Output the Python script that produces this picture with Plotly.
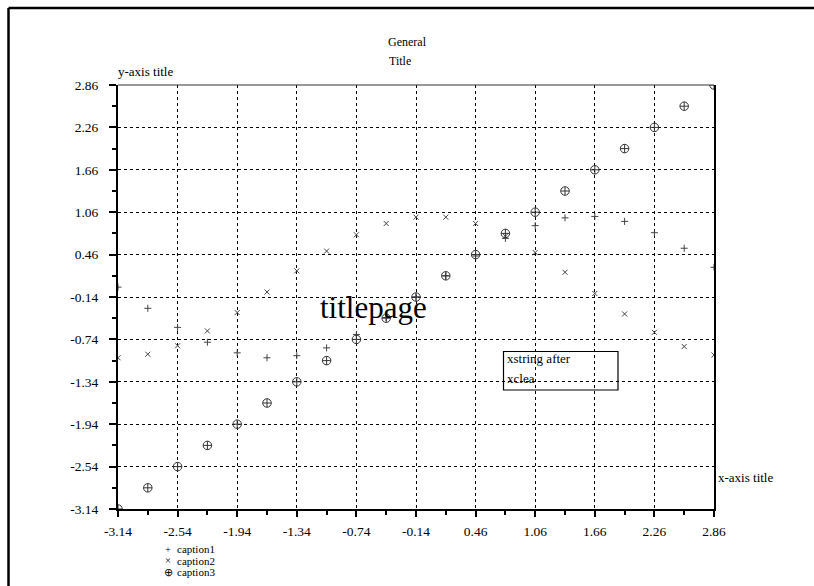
import plotly.graph_objects as go

# ---- data ----
x_vals = [-3.14, -2.84, -2.54, -2.24, -1.94, -1.64, -1.34, -1.04, -0.74, -0.44, -0.14,
          0.16, 0.46, 0.76, 1.06, 1.36, 1.66, 1.96, 2.26, 2.56, 2.86]
caption1 = [0.00, -0.30, -0.57, -0.78, -0.93, -1.00, -0.97, -0.86, -0.67, -0.43, -0.14,
            0.16, 0.44, 0.69, 0.87, 0.98, 1.00, 0.93, 0.77, 0.55, 0.28]
caption2 = [-1.00, -0.95, -0.83, -0.62, -0.36, -0.07, 0.23, 0.51, 0.74, 0.90, 0.99,
            0.99, 0.90, 0.72, 0.49, 0.21, -0.09, -0.38, -0.64, -0.84, -0.96]
caption3 = [-3.14, -2.84, -2.54, -2.24, -1.94, -1.64, -1.34, -1.04, -0.74, -0.44, -0.14,
            0.16, 0.46, 0.76, 1.06, 1.36, 1.66, 1.96, 2.26, 2.56, 2.86]
series_names = ["caption1", "caption2", "caption3"]
series_symbols = ["+", "\u00d7", "\u2295"]

tick_vals = [-3.14, -2.54, -1.94, -1.34, -0.74, -0.14, 0.46, 1.06, 1.66, 2.26, 2.86]
tick_text = ["-3.14", "-2.54", "-1.94", "-1.34", "-0.74", "-0.14", "0.46", "1.06", "1.66", "2.26", "2.86"]
minor_vals = [-2.84, -2.24, -1.64, -1.04, -0.44, 0.16, 0.76, 1.36, 1.96, 2.56]

FONT = "Liberation Serif"
W, H = 814, 586
L, R, T, B = 118, 100, 85, 77
PW, PH = W - L - R, H - T - B


def px(xp):
    return (xp - L) / PW


def py(yp):
    return (H - B - yp) / PH


fig = go.Figure()
fig.add_trace(go.Scatter(x=x_vals, y=caption1, mode="markers", name=series_names[0],
                         marker=dict(symbol="cross-thin", size=5, line=dict(color="#444", width=1))))
fig.add_trace(go.Scatter(x=x_vals, y=caption2, mode="markers", name=series_names[1],
                         marker=dict(symbol="x-thin", size=5, line=dict(color="#444", width=1))))
fig.add_trace(go.Scatter(x=x_vals, y=caption3, mode="markers", name=series_names[2],
                         marker=dict(symbol="circle-cross-open", size=8.5, color="#333",
                                     line=dict(color="#333", width=1))))

axis_common = dict(
    tickmode="array", tickvals=tick_vals, ticktext=tick_text,
    showgrid=True, gridcolor="black", gridwidth=1, griddash="3px,3px",
    zeroline=False, showline=True, linecolor="black", linewidth=2,
    ticks="outside", tickcolor="black", tickwidth=1.5,
    tickfont=dict(family=FONT, size=13.5, color="black"),
    minor=dict(tickmode="array", tickvals=minor_vals, ticks="outside", ticklen=4,
               tickcolor="black", tickwidth=1.5, showgrid=False),
    range=[-3.14, 2.86],
)

fig.update_xaxes(**axis_common, ticklen=6, mirror=False, ticklabelstandoff=3)
fig.update_yaxes(**axis_common, ticklen=7, mirror=True, ticklabelstandoff=8)

annos = []


def text(t, xp, yp, size, anchor="left"):
    annos.append(dict(text=t, x=px(xp), y=py(yp), xref="paper", yref="paper",
                      xanchor=anchor, yanchor="middle", showarrow=False,
                      font=dict(family=FONT, size=size, color="black")))


text("General", 386, 42, 12)
text("Title", 387, 61, 12)
text("y-axis title", 116, 71, 13)
text("x-axis title", 716, 477, 13)
text("titlepage", 318, 307, 31)
text("xstring after", 505, 358.5, 13)
text("xclea", 505, 378, 13)

rows = [549, 560.7, 572]
for sym, name, yp in zip(series_symbols, series_names, rows):
    text(sym, 168, yp, 10.5, anchor="center")
    text(name, 175, yp, 11)

shapes = [
    # legend-like box
    dict(type="rect", xref="paper", yref="paper", x0=px(503.5), x1=px(618), y0=py(390), y1=py(351.5),
         line=dict(color="black", width=1.2), fillcolor="rgba(0,0,0,0)"),
    # top border of plot box (thinner)
    dict(type="line", xref="paper", yref="paper", x0=0, x1=1, y0=1, y1=1,
         line=dict(color="#333", width=1.2)),
    # outer frame (left and top edges visible)
    dict(type="line", xref="paper", yref="paper", x0=px(8.5), x1=px(8.5), y0=py(8), y1=py(620),
         line=dict(color="black", width=2.5)),
    dict(type="line", xref="paper", yref="paper", x0=px(8.5), x1=px(830), y0=py(8), y1=py(8),
         line=dict(color="black", width=2.5)),
]

fig.update_layout(
    width=W, height=H,
    margin=dict(l=L, r=R, t=T, b=B, pad=0),
    paper_bgcolor="white", plot_bgcolor="white",
    showlegend=False,
    annotations=annos,
    shapes=shapes,
    font=dict(family=FONT, color="black"),
)

fig.write_html("out.html")
